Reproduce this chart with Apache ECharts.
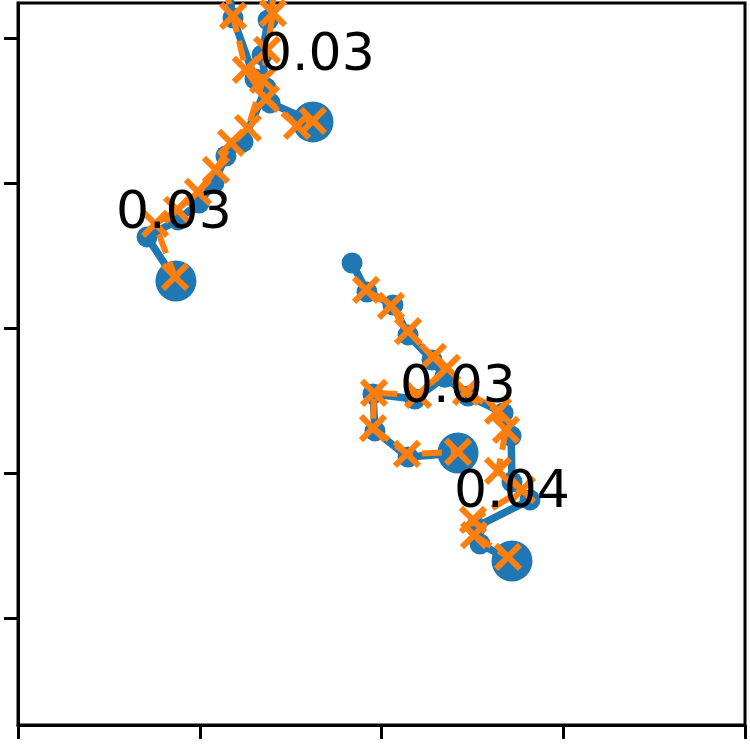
<!DOCTYPE html>
<html>
<head>
<meta charset="utf-8">
<script src="https://cdn.jsdelivr.net/npm/echarts@6/dist/echarts.min.js"></script>
<style>
html,body{margin:0;padding:0;background:#fff;}
#chart{width:750px;height:746px;}
</style>
</head>
<body>
<div id="chart"></div>
<script>
// Observed (blue) trajectories, [x, y]
const blueA = [[1.155,4.366],[1.183,4.138],[1.304,3.717],[1.387,3.552],[1.623,3.421]];
const blueB = [[1.414,4.366],[1.376,4.124],[1.343,3.883],[1.365,3.655],[1.238,3.283],[1.144,3.186],[1.078,3.0],[0.996,2.862],[0.880,2.745],[0.710,2.628],[0.869,2.324]];
const blueC = [[1.838,2.448],[1.920,2.248],[2.063,2.159],[2.146,1.952],[2.278,1.779],[2.349,1.662],[2.184,1.510],[1.953,1.545],[1.964,1.290],[2.146,1.110],[2.421,1.138]];
const blueD = [[2.349,1.662],[2.476,1.531],[2.669,1.414],[2.713,1.255],[2.718,0.938],[2.817,0.814],[2.520,0.628],[2.542,0.510],[2.718,0.393]];
// Predicted (orange) trajectories
const orangeA = [[1.133,4.366],[1.183,4.152],[1.254,3.779],[1.365,3.579],[1.535,3.393],[1.623,3.428]];
const orangeB = [[1.398,4.345],[1.403,4.172],[1.370,3.917],[1.348,3.710],[1.265,3.379],[1.172,3.276],[1.089,3.090],[0.990,2.938],[0.875,2.814],[0.754,2.717],[0.864,2.352]];
const orangeC = [[1.915,2.262],[2.052,2.152],[2.146,1.979],[2.283,1.800],[2.360,1.724],[2.201,1.538],[1.959,1.552],[1.953,1.310],[2.140,1.131],[2.421,1.145]];
const orangeD = [[2.465,1.559],[2.641,1.428],[2.685,1.297],[2.641,1.014],[2.773,0.883],[2.503,0.676],[2.509,0.572],[2.696,0.421]];
// Error annotations
const labelX = [1.326, 0.539, 2.102, 2.399];
const labelY = [3.870, 2.785, 1.585, 0.860];
const labelText = ['0.03', '0.03', '0.03', '0.04'];
// Axis ticks
const xTicks = [0, 1, 2, 3, 4];
const yTicks = [0, 1, 2, 3, 4];

const BLUE = '#1f77b4', ORANGE = '#ff7f0e';
const XSYM = 'path://M0,0L10,10M10,0L0,10';

const blues = [blueA, blueB, blueC, blueD];
const oranges = [orangeA, orangeB, orangeC, orangeD];
const series = [];
blues.forEach(function (d) {
  series.push({
    type: 'line', data: d, symbol: 'circle', symbolSize: 21, showSymbol: true,
    lineStyle: { color: BLUE, width: 7.5 }, itemStyle: { color: BLUE },
    z: 2, clip: true, silent: true
  });
});
series.push({
  type: 'scatter', data: blues.map(function (d) { return d[d.length - 1]; }),
  symbol: 'circle', symbolSize: 41, itemStyle: { color: BLUE, opacity: 1 }, z: 3, silent: true
});
oranges.forEach(function (d) {
  series.push({
    type: 'line', data: d, symbol: XSYM, symbolSize: 24, showSymbol: true,
    lineStyle: { color: ORANGE, width: 6, type: [20, 9] },
    itemStyle: { color: 'rgba(0,0,0,0)', borderColor: ORANGE, borderWidth: 6 },
    z: 4, clip: true, silent: true
  });
});
series.push({
  type: 'scatter', symbolSize: 0, z: 10, silent: true,
  data: labelText.map(function (t, i) { return { name: t, value: [labelX[i], labelY[i]] }; }),
  label: {
    show: true, formatter: '{b}', position: 'right', distance: 0,
    align: 'left', verticalAlign: 'middle',
    fontFamily: 'DejaVu Sans', fontSize: 52, color: '#000000', opacity: 1,
    textBorderWidth: 0
  }
});

const axisLineStyle = { color: '#000', width: 3 };
const chart = echarts.init(document.getElementById('chart'), null, { renderer: 'canvas' });
chart.setOption({
  animation: false,
  backgroundColor: '#fff',
  grid: { left: 18, right: 5, top: 3, bottom: 21, show: true, borderColor: '#000', borderWidth: 3, backgroundColor: 'transparent' },
  xAxis: {
    type: 'value', min: 0, max: 4, interval: 1,
    axisLine: { show: true, onZero: false, lineStyle: axisLineStyle },
    axisTick: { show: true, inside: false, length: 14, customValues: xTicks, lineStyle: axisLineStyle },
    axisLabel: { show: false }, splitLine: { show: false }
  },
  yAxis: {
    type: 'value', min: -0.738, max: 4.241,
    axisLine: { show: true, onZero: false, lineStyle: axisLineStyle },
    axisTick: { show: true, inside: false, length: 14, customValues: yTicks, lineStyle: axisLineStyle },
    axisLabel: { show: false }, splitLine: { show: false }
  },
  series: series
});
</script>
</body>
</html>
